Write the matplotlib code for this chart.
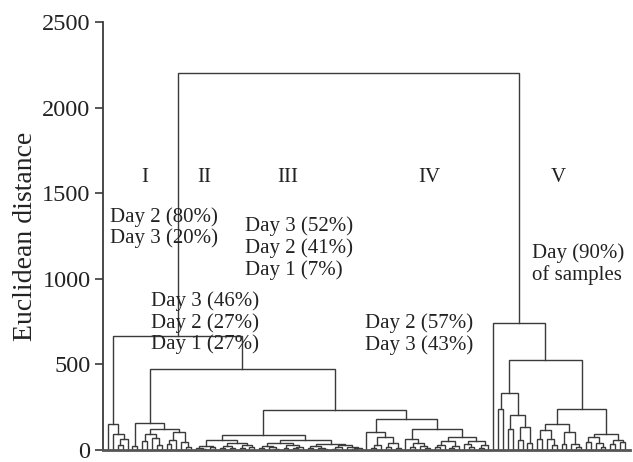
import matplotlib
matplotlib.use("Agg")
import matplotlib.pyplot as plt

plt.rcParams['font.family'] = ['Liberation Serif', 'DejaVu Serif']

# dendrogram: a node is [height, left, right], a leaf is 0
cluster_I = [151, 0, [93, 0, [64, [29, 0, 0], 0]]]
cluster_II = [157, [25, 0, 0],
              [121, [95, [50, 0, 0], [70, 0, [30, 0, 0]]],
                    [105, [60, [35, 0, 0], 0], [45, 0, [20, 0, 0]]]]]
cluster_III = [85,
               [58, [25, [12, 0, [8, 0, 0]], [18, 0, 0]],
                    [40, [22, [10, 0, 0], [14, 0, 0]], [28, [12, 0, 0], [16, 0, 0]]]],
               [58, [40, [25, [10, 0, 0], [15, 0, [8, 0, 0]]], [30, [12, 0, 0], [18, [9, 0, 0], 0]]],
                    [35, [22, [10, 0, 0], [14, 0, [6, 0, 0]]],
                         [28, [18, [8, 0, 0], 0], [20, 0, [12, [5, 0, 0], 0]]]]]]
cluster_IV = [180,
              [104, 0, [75, [30, [12, 0, 0], 0], [40, [15, 0, 0], [10, 0, 0]]]],
              [120, [65, 0, [40, [20, 0, 0], [25, 0, [10, 0, 0]]]],
                    [75, [55, [30, [15, 0, 0], 0], [25, [12, 0, 0], 0]],
                         [50, [35, 0, [18, 0, 0]], [28, [10, 0, 0], 0]]]]]
cluster_V = [528,
             [330, [238, 0, 0], [203, [122, 0, 0], [133, [58, 0, 0], [40, 0, 0]]]],
             [238, [151, [116, [64, 0, 0], [64, 0, [30, 0, 0]]], [104, [35, 0, 0], [35, 0, [20, 0, 0]]]],
                   [93, [75, [45, 0, 0], [40, 0, [20, 0, 0]]], [60, [35, 0, 0], [45, 0, 0]]]]]

tree = [2200, [667, cluster_I, [475, cluster_II, [232, cluster_III, cluster_IV]]],
        [742, 0, cluster_V]]

cluster_names = ['I', 'II', 'III', 'IV', 'V']
group_texts = [
    ['Day 2 (80%)', 'Day 3 (20%)'],
    ['Day 3 (46%)', 'Day 2 (27%)', 'Day 1 (27%)'],
    ['Day 3 (52%)', 'Day 2 (41%)', 'Day 1 (7%)'],
    ['Day 2 (57%)', 'Day 3 (43%)'],
    ['Day (90%)', 'of samples'],
]

# layout (data coords): name x positions, and text block (x, top y)
name_x = [7.6, 19.7, 36.9, 65.8, 92.3]
name_y = 1590
text_pos = [(0.4, 1363), (8.8, 870), (28.1, 1305), (52.7, 742), (86.9, 1148)]
line_step = 127

fig = plt.figure(figsize=(6.33, 4.62), dpi=100)
ax = fig.add_axes([0.1627, 0.026, 0.8323, 0.9264])

lc = '#3a3a3a'
counter = [0]


def draw(node):
    if node == 0:
        x = counter[0]
        counter[0] += 1
        return x, 0
    h, a, b = node
    xa, ha = draw(a)
    xb, hb = draw(b)
    ax.plot([xa, xa, xb, xb], [ha, h, h, hb], color=lc, lw=1.0, solid_joinstyle='miter')
    return (xa + xb) / 2, h


draw(tree)

for name, x in zip(cluster_names, name_x):
    ax.text(x, name_y, name, ha='center', va='center', fontsize=15, color='#222222')

for lines, (x, y) in zip(group_texts, text_pos):
    for k, s in enumerate(lines):
        ax.text(x, y - k * line_step, s, ha='left', va='center', fontsize=15, color='#222222')

ax.set_xlim(-1.03, 107.0)
ax.set_ylim(0, 2500)
ax.set_yticks([0, 500, 1000, 1500, 2000, 2500])
ax.set_xticks([])
ax.tick_params(axis='y', direction='out', length=6, width=1.2, colors='#3a3a3a',
               labelsize=17.5, labelcolor='#222222', pad=3)
for side in ['top', 'right']:
    ax.spines[side].set_visible(False)
ax.spines['left'].set_color('#3a3a3a')
ax.spines['left'].set_linewidth(1.3)
ax.spines['bottom'].set_color('#555555')
ax.spines['bottom'].set_linewidth(2.0)
ax.set_ylabel('Euclidean distance', fontsize=20, color='#222222', labelpad=3)

fig.savefig('out.png', dpi=100)
